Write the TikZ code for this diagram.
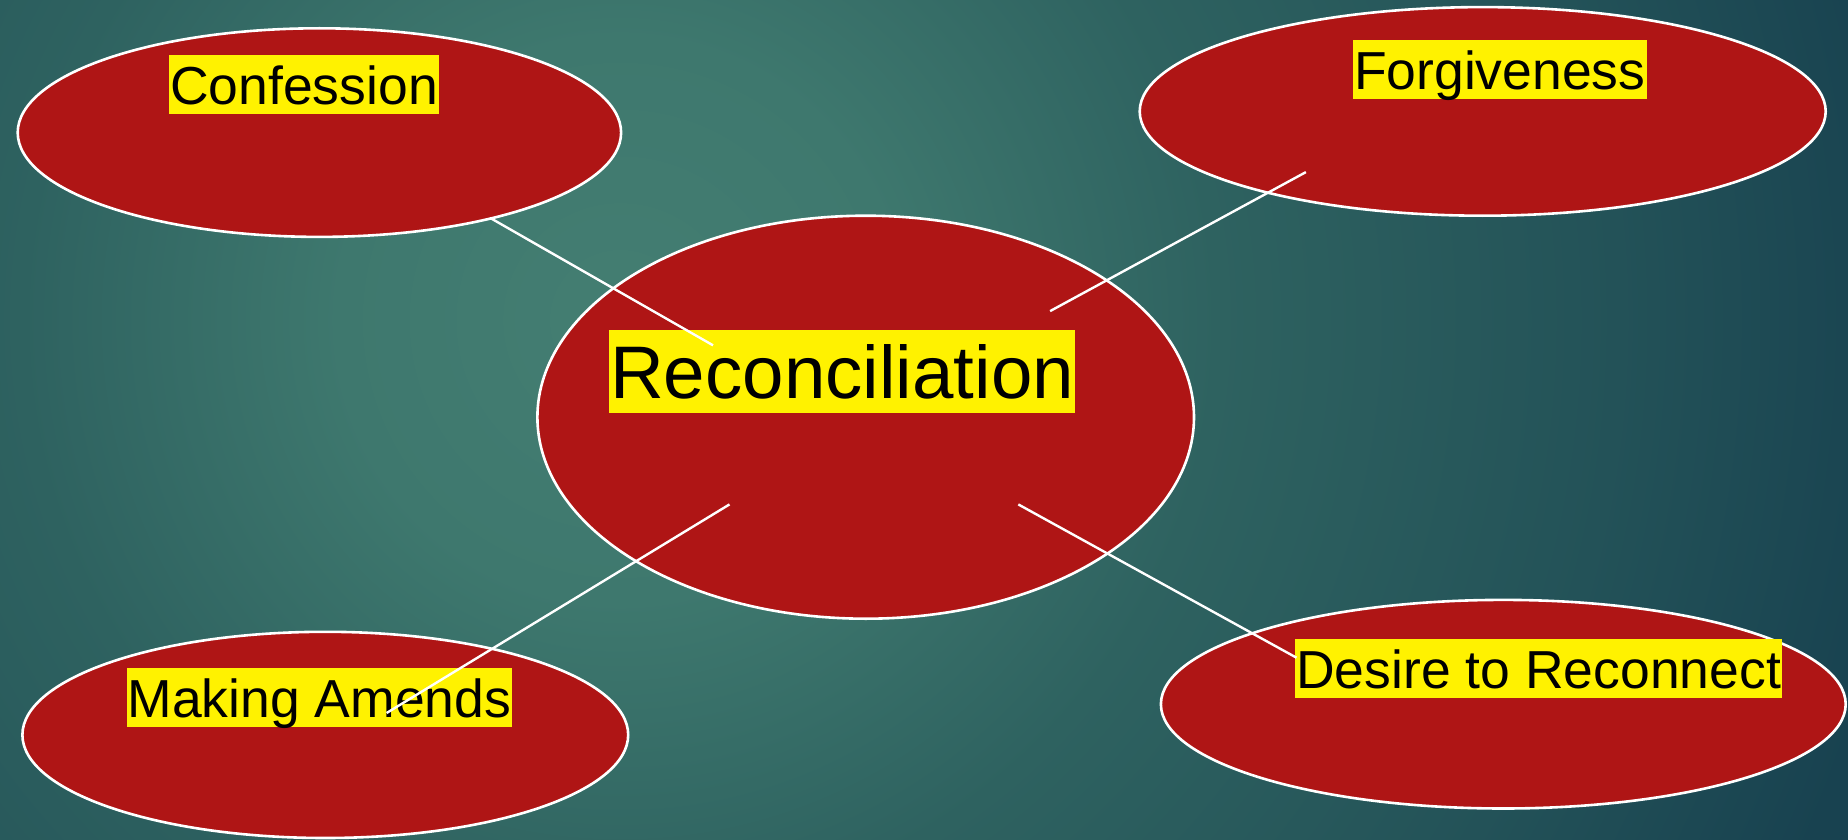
\documentclass[tikz,border=0pt]{standalone}
\usepackage{fontspec}
\setmainfont{Liberation Sans}
\usetikzlibrary{shapes.geometric}
\definecolor{bgA}{RGB}{68,126,114}
\definecolor{bgAA}{RGB}{62,120,110}
\definecolor{bgM}{RGB}{46,98,96}
\definecolor{bgMM}{RGB}{35,82,88}
\definecolor{bgB}{RGB}{24,66,80}
\definecolor{ovalred}{RGB}{175,21,21}
\pgfdeclareradialshading{bgshade}{\pgfpointorigin}{color(0bp)=(bgA); color(5.4bp)=(bgAA); color(11.5bp)=(bgM); color(19.2bp)=(bgMM); color(25bp)=(bgB); color(50bp)=(bgB)}
\tikzset{
  oval/.style={ellipse, draw=white, line width=2.6pt, fill=ovalred, inner sep=0pt},
  lbl/.style={fill=yellow, text=black, inner xsep=1pt, inner ysep=0pt, text height=49.5pt, text depth=9.5pt, font=\fontsize{53.5}{60}\selectfont},
  biglbl/.style={fill=yellow, text=black, inner xsep=1pt, inner ysep=0pt, text height=68pt, text depth=14.5pt, font=\fontsize{74.5}{82}\selectfont},
  link/.style={draw=white, line width=2.4pt}
}
\begin{document}
\begin{tikzpicture}[x=1pt,y=-1pt]
\useasboundingbox (0,0) rectangle (1848,840);
\begin{scope}
  \clip (0,0) rectangle (1848,840);
  \fill[bgB] (0,0) rectangle (1848,840);
  \shade[shading=bgshade] (620,320) circle (1300);
\end{scope}
% ovals
\node[oval, minimum width=603.4pt, minimum height=208.6pt] (confE) at (319.4,132.6) {};
\node[oval, minimum width=686pt, minimum height=208.6pt] (forgE) at (1482.7,111.4) {};
\node[oval, minimum width=656.6pt, minimum height=403pt] (recE) at (865.7,417.2) {};
\node[oval, minimum width=605.8pt, minimum height=206.2pt] (amendE) at (325.3,734.9) {};
\node[oval, minimum width=684.8pt, minimum height=208.6pt] (desE) at (1503.3,704.2) {};
% labels
\node[lbl] (conf) at (304,84.9) {Confession};
\node[lbl] (forg) at (1499.8,70) {Forgiveness};
\node[biglbl] (rec) at (842.1,371.3) {Reconciliation};
\node[lbl] (amend) at (319.4,697.8) {Making Amends};
\node[lbl] (des) at (1538.7,668.3) {Desire to Reconnect};
% connector end points
\coordinate (c1a) at (490.3,218);
\coordinate (c1b) at (713,345.3);
\coordinate (c2a) at (1305.9,172.1);
\coordinate (c2b) at (1050.1,311.1);
\coordinate (c3a) at (729.5,504.4);
\coordinate (c3b) at (386.6,713);
\coordinate (c4a) at (1018.3,504.4);
\coordinate (c4b) at (1296.5,657.7);
\draw[link] (c1a) -- (c1b);
\draw[link] (c2a) -- (c2b);
\draw[link] (c3a) -- (c3b);
\draw[link] (c4a) -- (c4b);
\end{tikzpicture}
\end{document}
